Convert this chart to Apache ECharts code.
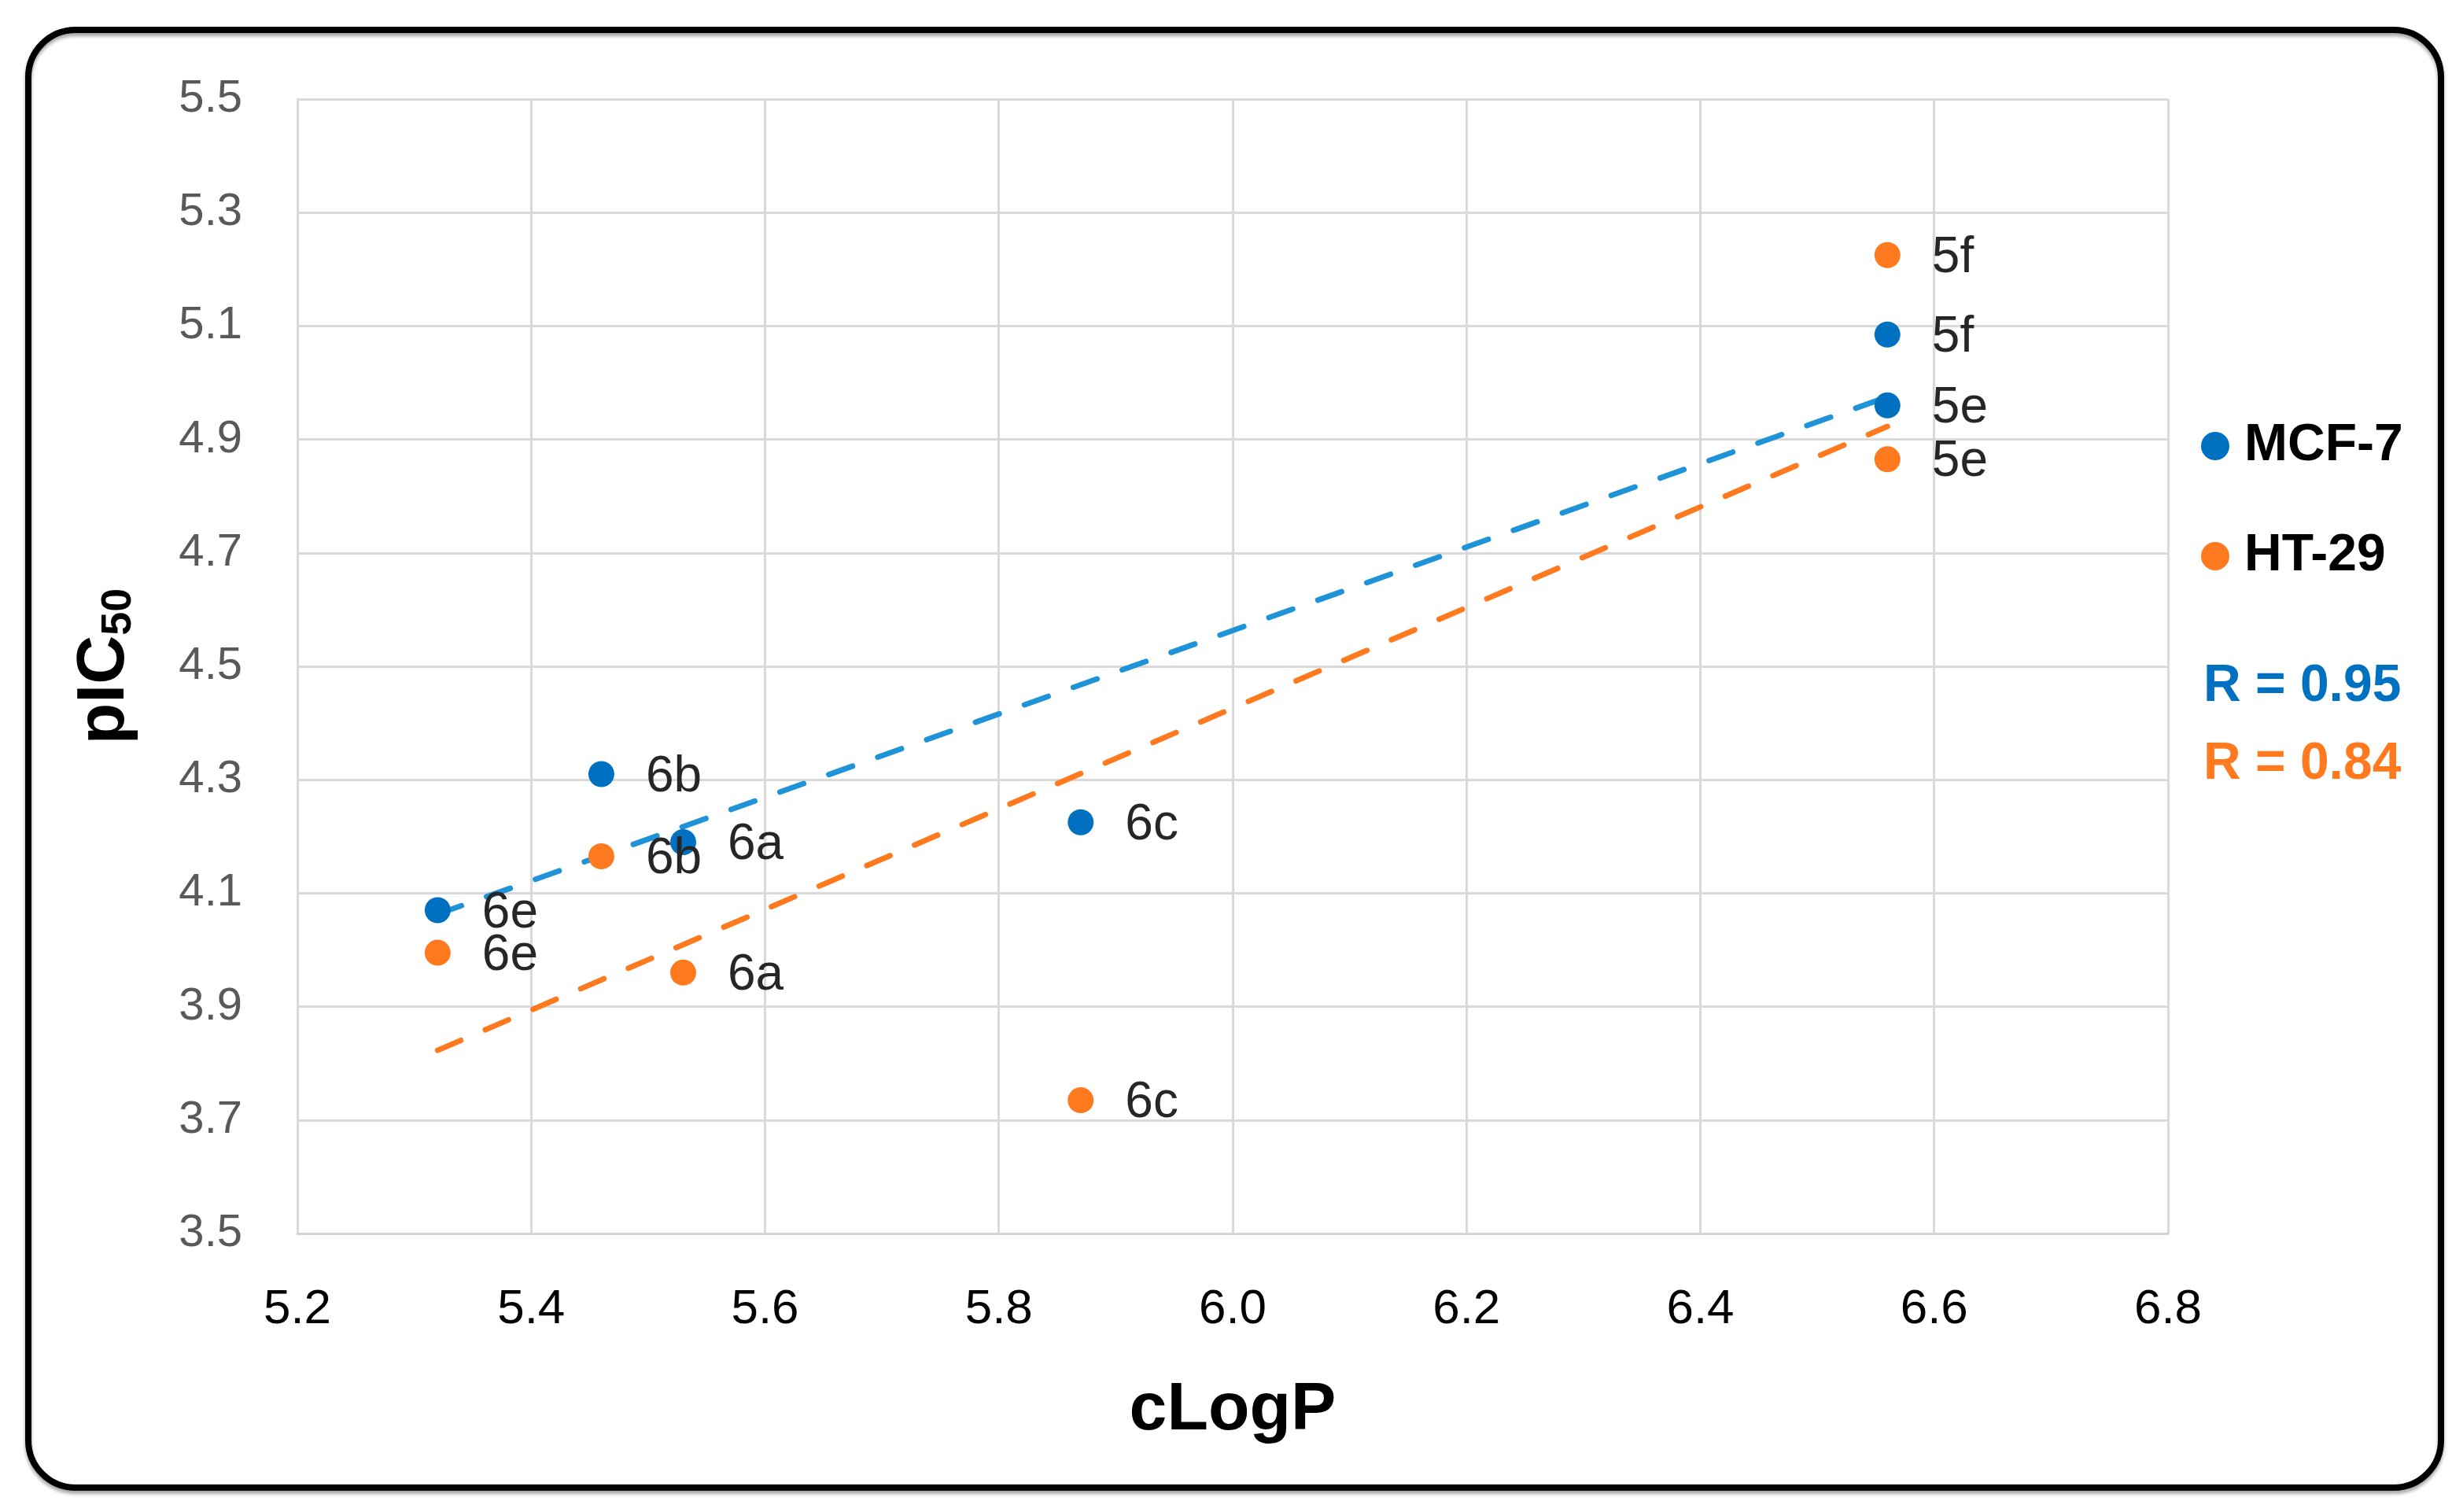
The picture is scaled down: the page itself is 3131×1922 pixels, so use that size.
<!DOCTYPE html>
<html>
<head>
<meta charset="utf-8">
<script src="https://cdn.jsdelivr.net/npm/echarts@6/dist/echarts.min.js"></script>
<style>
html,body{margin:0;padding:0;background:#fff;}
#chart{width:3131px;height:1922px;}
</style>
</head>
<body>
<div id="chart"></div>
<script>
// ---- data ----
const compounds = ['5f', '5e', '6b', '6a', '6c', '6e'];
const cLogP = [6.56, 6.56, 5.46, 5.53, 5.87, 5.32];
const mcf7 = [5.085, 4.96, 4.31, 4.19, 4.225, 4.07];
const ht29 = [5.225, 4.865, 4.165, 3.96, 3.735, 3.995];
const trendX = [5.32, 6.56];
const mcf7Trend = [4.063, 4.975];
const ht29Trend = [3.823, 4.923];
const xTicks = ['5.2', '5.4', '5.6', '5.8', '6.0', '6.2', '6.4', '6.6', '6.8'];
const yTicks = ['3.5', '3.7', '3.9', '4.1', '4.3', '4.5', '4.7', '4.9', '5.1', '5.3', '5.5'];
const seriesNames = ['MCF-7', 'HT-29'];
const rTexts = ['R = 0.95', 'R = 0.84'];

const FONT = '"Liberation Sans", Arial, sans-serif';
const BLUE = '#0070C0';
const ORANGE = '#FF7A1F';
const BLUE_TREND = '#1F93D8';
const ORANGE_TREND = '#FF7A1F';

function points(ys) {
  return compounds.map((c, i) => ({ name: c, value: [cLogP[i], ys[i]] }));
}
function trend(ys) {
  return trendX.map((x, i) => [x, ys[i]]);
}

const labelStyle = {
  show: true, position: 'right', distance: 40, formatter: '{b}',
  fontFamily: FONT, fontSize: 64, color: '#262626', offset: [0, 4]
};

const chart = echarts.init(document.getElementById('chart'), null, { renderer: 'canvas' });
chart.setOption({
  backgroundColor: '#fff',
  animation: false,
  grid: { left: 378, right: 375, top: 126, bottom: 354 },
  xAxis: {
    type: 'value', min: 5.2, max: 6.8, interval: 0.2,
    name: 'cLogP', nameLocation: 'middle', nameGap: 182,
    nameTextStyle: { fontFamily: FONT, fontSize: 86, fontWeight: 'bold', color: '#000' },
    axisLine: { show: true, lineStyle: { color: '#D4D4D4', width: 3 } },
    axisTick: { show: false },
    splitLine: { show: true, lineStyle: { color: '#D9D9D9', width: 3 } },
    axisLabel: {
      margin: 66, fontFamily: FONT, fontSize: 62, color: '#000',
      formatter: (v) => xTicks[Math.round((v - 5.2) / 0.2)]
    }
  },
  yAxis: {
    type: 'value', min: 3.5, max: 5.5, interval: 0.2,
    name: '{a|pIC}{b|50}', nameLocation: 'middle', nameGap: 200, nameRotate: 90,
    nameTextStyle: {
      fontFamily: FONT, fontWeight: 'bold', color: '#000',
      rich: {
        a: { fontFamily: FONT, fontSize: 86, fontWeight: 'bold', color: '#000', lineHeight: 90 },
        b: { fontFamily: FONT, fontSize: 54, fontWeight: 'bold', color: '#000', lineHeight: 40, verticalAlign: 'bottom' }
      }
    },
    axisLine: { show: true, lineStyle: { color: '#D9D9D9', width: 3 } },
    axisTick: { show: false },
    splitLine: { show: true, lineStyle: { color: '#D9D9D9', width: 3 } },
    axisLabel: {
      margin: 70, fontFamily: FONT, fontSize: 58, color: '#595959',
      formatter: (v) => yTicks[Math.round((v - 3.5) / 0.2)]
    }
  },
  legend: {
    orient: 'vertical', left: 2793, top: 529,
    itemWidth: 64, itemHeight: 36, itemGap: 74, icon: 'circle',
    data: seriesNames,
    textStyle: { fontFamily: FONT, fontSize: 66, fontWeight: 'bold', color: '#000', lineHeight: 64 }
  },
  series: [
    {
      name: seriesNames[0] + ' trend', type: 'line', data: trend(mcf7Trend), symbol: 'none', z: 1,
      lineStyle: { color: BLUE_TREND, width: 7, type: [32, 34], cap: 'round' }, silent: true
    },
    {
      name: seriesNames[1] + ' trend', type: 'line', data: trend(ht29Trend), symbol: 'none', z: 1,
      lineStyle: { color: ORANGE_TREND, width: 7, type: [32, 34], cap: 'round' }, silent: true
    },
    {
      name: seriesNames[0], type: 'scatter', symbol: 'circle', symbolSize: 33, z: 3,
      itemStyle: { color: BLUE, opacity: 1 }, data: points(mcf7), label: labelStyle
    },
    {
      name: seriesNames[1], type: 'scatter', symbol: 'circle', symbolSize: 33, z: 3,
      itemStyle: { color: ORANGE, opacity: 1 }, data: points(ht29), label: labelStyle
    }
  ],
  graphic: [
    {
      type: 'rect', left: 32, top: 34, z: 10, silent: true,
      shape: { width: 3067, height: 1853, r: 60 },
      style: { fill: 'none', stroke: '#000', lineWidth: 8, shadowColor: 'rgba(0,0,0,0.35)', shadowBlur: 4, shadowOffsetY: 4 }
    },
    {
      type: 'text', left: 2801, top: 840, z: 10,
      style: { text: rTexts[0], fontFamily: FONT, fontSize: 66, fontWeight: 'bold', fill: BLUE }
    },
    {
      type: 'text', left: 2801, top: 939, z: 10,
      style: { text: rTexts[1], fontFamily: FONT, fontSize: 66, fontWeight: 'bold', fill: ORANGE }
    }
  ]
});
</script>
</body>
</html>
